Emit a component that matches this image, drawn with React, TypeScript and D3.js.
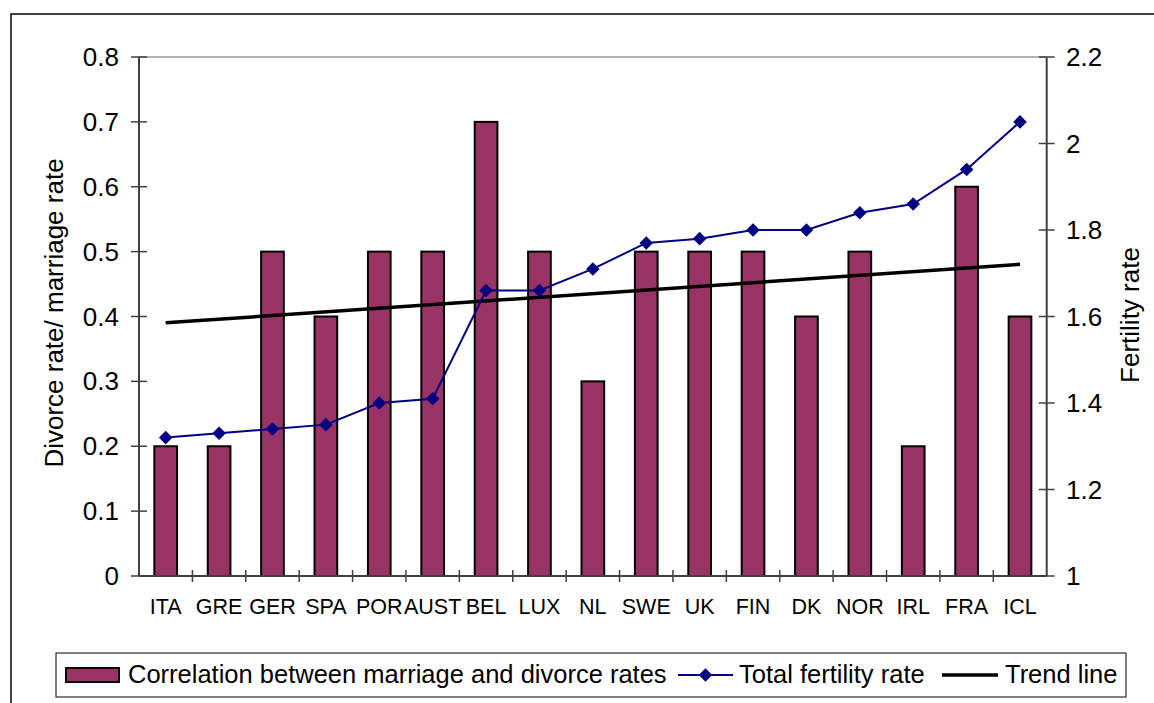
import { useEffect, useRef } from 'react';
import * as d3 from 'd3';

const countries = ['ITA', 'GRE', 'GER', 'SPA', 'POR', 'AUST', 'BEL', 'LUX', 'NL', 'SWE', 'UK', 'FIN', 'DK', 'NOR', 'IRL', 'FRA', 'ICL'];
const correlation = [0.2, 0.2, 0.5, 0.4, 0.5, 0.5, 0.7, 0.5, 0.3, 0.5, 0.5, 0.5, 0.4, 0.5, 0.2, 0.6, 0.4];
const fertility = [1.32, 1.33, 1.34, 1.35, 1.4, 1.41, 1.66, 1.66, 1.71, 1.77, 1.78, 1.8, 1.8, 1.84, 1.86, 1.94, 2.05];
const leftTicks = [0, 0.1, 0.2, 0.3, 0.4, 0.5, 0.6, 0.7, 0.8];
const rightTicks = [1, 1.2, 1.4, 1.6, 1.8, 2, 2.2];

const FONT = 'Liberation Sans, Arial, sans-serif';

export default function App() {
  const ref = useRef<SVGSVGElement>(null);

  useEffect(() => {
    if (!ref.current) return;
    const svg = d3.select(ref.current);
    svg.selectAll('*').remove();

    const width = 1154;
    const height = 703;
    const plot = { left: 139, right: 1046.7, top: 57, bottom: 576 };

    svg.attr('width', width).attr('height', height);

    // chart frame
    svg.append('rect')
      .attr('x', 11).attr('y', 14)
      .attr('width', 1160).attr('height', 710)
      .attr('fill', 'white')
      .attr('stroke', '#000')
      .attr('stroke-width', 1.5);

    const x = d3.scaleBand<string>()
      .domain(countries)
      .range([plot.left, plot.right])
      .padding(0);

    const yLeft = d3.scaleLinear().domain([0, 0.8]).range([plot.bottom, plot.top]);
    const yRight = d3.scaleLinear().domain([1, 2.2]).range([plot.bottom, plot.top]);

    const cx = (d: string) => (x(d) || 0) + x.bandwidth() / 2;
    const barW = x.bandwidth() * 0.425;

    // top border of plot area
    svg.append('line')
      .attr('x1', plot.left).attr('x2', plot.right)
      .attr('y1', yLeft(0.8)).attr('y2', yLeft(0.8))
      .attr('stroke', '#9a9a9a')
      .attr('stroke-width', 1.5);

    // bars
    svg.append('g')
      .selectAll('rect')
      .data(countries)
      .enter()
      .append('rect')
      .attr('x', d => cx(d) - barW / 2)
      .attr('y', (d, i) => yLeft(correlation[i]))
      .attr('width', barW)
      .attr('height', (d, i) => yLeft(0) - yLeft(correlation[i]))
      .attr('fill', '#993366')
      .attr('stroke', '#000')
      .attr('stroke-width', 2);

    // trend line (least squares on bar values)
    const idx = d3.range(correlation.length);
    const xMean = d3.mean(idx) || 0;
    const yMean = d3.mean(correlation) || 0;
    const ssxx = d3.sum(idx, i => (i - xMean) ** 2);
    const ssxy = d3.sum(idx, i => (i - xMean) * (correlation[i] - yMean));
    const slope = ssxy / ssxx;
    const intercept = yMean - slope * xMean;
    const last = countries.length - 1;

    svg.append('line')
      .attr('x1', cx(countries[0]))
      .attr('y1', yLeft(intercept))
      .attr('x2', cx(countries[last]))
      .attr('y2', yLeft(intercept + slope * last))
      .attr('stroke', '#000')
      .attr('stroke-width', 3.5);

    // fertility line
    const line = d3.line<number>()
      .x((d, i) => cx(countries[i]))
      .y(d => yRight(d));

    svg.append('path')
      .datum(fertility)
      .attr('d', line)
      .attr('fill', 'none')
      .attr('stroke', '#000080')
      .attr('stroke-width', 2);

    const diamond = d3.symbol().type(d3.symbolSquare).size(92);
    svg.append('g')
      .selectAll('path')
      .data(fertility)
      .enter()
      .append('path')
      .attr('d', diamond)
      .attr('transform', (d, i) => `translate(${cx(countries[i])},${yRight(d)}) rotate(45)`)
      .attr('fill', '#000080');

    // left axis
    const axisColor = '#404040';
    svg.append('line')
      .attr('x1', plot.left).attr('x2', plot.left)
      .attr('y1', plot.top).attr('y2', plot.bottom)
      .attr('stroke', axisColor).attr('stroke-width', 2);

    const lt = svg.append('g');
    lt.selectAll('line')
      .data(leftTicks)
      .enter()
      .append('line')
      .attr('x1', plot.left - 8).attr('x2', plot.left + 8)
      .attr('y1', d => yLeft(d)).attr('y2', d => yLeft(d))
      .attr('stroke', axisColor).attr('stroke-width', 1.5);
    lt.selectAll('text')
      .data(leftTicks)
      .enter()
      .append('text')
      .attr('x', 119)
      .attr('y', d => yLeft(d) + 9)
      .attr('text-anchor', 'end')
      .attr('font-family', FONT)
      .attr('font-size', 26)
      .attr('fill', '#000')
      .text(d => (d === 0 ? '0' : d3.format('.1f')(d)));

    // right axis
    svg.append('line')
      .attr('x1', plot.right).attr('x2', plot.right)
      .attr('y1', plot.top).attr('y2', plot.bottom)
      .attr('stroke', axisColor).attr('stroke-width', 2);

    const rt = svg.append('g');
    rt.selectAll('line')
      .data(rightTicks)
      .enter()
      .append('line')
      .attr('x1', plot.right - 8).attr('x2', plot.right + 8)
      .attr('y1', d => yRight(d)).attr('y2', d => yRight(d))
      .attr('stroke', axisColor).attr('stroke-width', 1.5);
    rt.selectAll('text')
      .data(rightTicks)
      .enter()
      .append('text')
      .attr('x', 1066)
      .attr('y', d => yRight(d) + 9)
      .attr('font-family', FONT)
      .attr('font-size', 26)
      .attr('fill', '#000')
      .text(d => (Number.isInteger(d) ? String(d) : d3.format('.1f')(d)));

    // bottom axis
    svg.append('line')
      .attr('x1', plot.left).attr('x2', plot.right)
      .attr('y1', plot.bottom).attr('y2', plot.bottom)
      .attr('stroke', axisColor).attr('stroke-width', 2);

    svg.append('g')
      .selectAll('line')
      .data(countries.slice(1))
      .enter()
      .append('line')
      .attr('x1', d => x(d) || 0).attr('x2', d => x(d) || 0)
      .attr('y1', plot.bottom - 6).attr('y2', plot.bottom + 6)
      .attr('stroke', axisColor).attr('stroke-width', 1.5);

    svg.append('g')
      .selectAll('text')
      .data(countries)
      .enter()
      .append('text')
      .attr('x', d => cx(d))
      .attr('y', 614)
      .attr('text-anchor', 'middle')
      .attr('font-family', FONT)
      .attr('font-size', 21.5)
      .attr('fill', '#000')
      .text(d => d);

    // axis titles
    svg.append('text')
      .attr('transform', `translate(63,313) rotate(-90)`)
      .attr('text-anchor', 'middle')
      .attr('font-family', FONT)
      .attr('font-size', 26)
      .attr('fill', '#000')
      .text('Divorce rate/ marriage rate');

    svg.append('text')
      .attr('transform', `translate(1139,315) rotate(-90)`)
      .attr('text-anchor', 'middle')
      .attr('font-family', FONT)
      .attr('font-size', 26)
      .attr('fill', '#000')
      .text('Fertility rate');

    // legend
    const lg = svg.append('g');
    lg.append('rect')
      .attr('x', 56).attr('y', 653)
      .attr('width', 1070).attr('height', 44)
      .attr('fill', 'white')
      .attr('stroke', '#000')
      .attr('stroke-width', 1);

    lg.append('rect')
      .attr('x', 66).attr('y', 668)
      .attr('width', 53).attr('height', 14)
      .attr('fill', '#993366')
      .attr('stroke', '#000')
      .attr('stroke-width', 2);
    lg.append('text')
      .attr('x', 128).attr('y', 683)
      .attr('font-family', FONT).attr('font-size', 25.5)
      .text('Correlation between marriage and divorce rates');

    lg.append('line')
      .attr('x1', 678).attr('x2', 733)
      .attr('y1', 675).attr('y2', 675)
      .attr('stroke', '#000080').attr('stroke-width', 2);
    lg.append('path')
      .attr('d', diamond)
      .attr('transform', 'translate(705.5,675) rotate(45)')
      .attr('fill', '#000080');
    lg.append('text')
      .attr('x', 739).attr('y', 683)
      .attr('font-family', FONT).attr('font-size', 25.5)
      .text('Total fertility rate');

    lg.append('line')
      .attr('x1', 942).attr('x2', 998)
      .attr('y1', 675).attr('y2', 675)
      .attr('stroke', '#000').attr('stroke-width', 3.5);
    lg.append('text')
      .attr('x', 1005).attr('y', 683)
      .attr('font-family', FONT).attr('font-size', 25.5)
      .text('Trend line');
  }, []);

  return (
    <svg ref={ref} style={{ position: 'absolute', left: 0, top: 0, display: 'block' }}></svg>
  );
}
